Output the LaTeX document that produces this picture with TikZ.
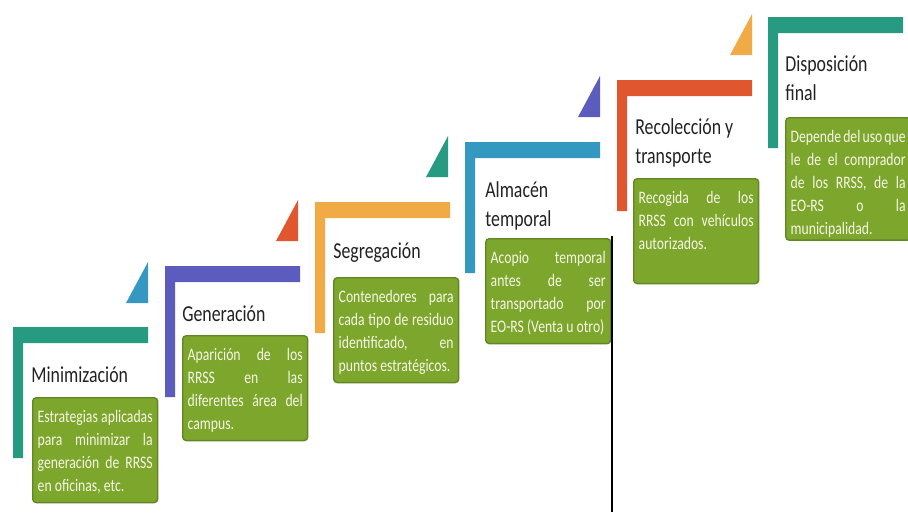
\documentclass[tikz,border=0pt]{standalone}
\usepackage{fontspec}
\setmainfont[FakeStretch=0.78]{Carlito}
\usetikzlibrary{positioning}
\definecolor{stepteal}{RGB}{38,155,130}
\definecolor{steppurple}{RGB}{92,92,190}
\definecolor{steporange}{RGB}{240,170,70}
\definecolor{stepblue}{RGB}{52,152,192}
\definecolor{stepred}{RGB}{224,86,46}
\definecolor{boxgreen}{RGB}{125,166,45}
\definecolor{boxedge}{RGB}{98,134,36}
\definecolor{boxtext}{RGB}{246,246,230}
\definecolor{titlegray}{RGB}{34,34,34}

\begin{document}
\begin{tikzpicture}[x=0.02cm,y=-0.02cm,
    body/.style={rectangle,rounded corners=2pt,fill=boxgreen,draw=boxedge,line width=0.8pt,
      anchor=north west,inner xsep=0.1cm,inner ysep=0.1cm,text width=2.3cm,align=justify,
      text=boxtext,font=\fontsize{10}{13}\selectfont,text height=11.5pt,text depth=42.5pt},
    title/.style={anchor=base west,inner sep=0pt,align=left,text=titlegray,
      font=\fontsize{13}{16}\selectfont}]
    \useasboundingbox (0,0) rectangle (908,512);

    % corners of the steps
    \coordinate (s1) at (13,327);
    \coordinate (s2) at (165,266);
    \coordinate (s3) at (315,202);
    \coordinate (s4) at (465,142);
    \coordinate (s5) at (617,80);
    \coordinate (s6) at (768,17);

    % steps
    \fill[stepteal] (s1) -- ++(135,0) -- ++(0,16) -- ++(-125,0) -- ++(0,115) -- ++(-10,0) -- cycle;
    \fill[steppurple] (s2) -- ++(135,0) -- ++(0,16) -- ++(-125,0) -- ++(0,115) -- ++(-10,0) -- cycle;
    \fill[steporange] (s3) -- ++(135,0) -- ++(0,16) -- ++(-125,0) -- ++(0,115) -- ++(-10,0) -- cycle;
    \fill[stepblue] (s4) -- ++(135,0) -- ++(0,16) -- ++(-125,0) -- ++(0,115) -- ++(-10,0) -- cycle;
    \fill[stepred] (s5) -- ++(135,0) -- ++(0,16) -- ++(-125,0) -- ++(0,115) -- ++(-10,0) -- cycle;
    \fill[stepteal] (s6) -- ++(135,0) -- ++(0,16) -- ++(-125,0) -- ++(0,115) -- ++(-10,0) -- cycle;

    % small triangles
    \fill[stepblue] (s1) ++(135,-24) -- ++(0,-41) -- ++(-22,41) -- cycle;
    \fill[stepred] (s2) ++(133,-25) -- ++(0,-41) -- ++(-22,41) -- cycle;
    \fill[stepteal] (s3) ++(133,-25) -- ++(0,-41) -- ++(-22,41) -- cycle;
    \fill[steppurple] (s4) ++(135,-25) -- ++(0,-41) -- ++(-22,41) -- cycle;
    \fill[steporange] (s5) ++(135,-25) -- ++(0,-41) -- ++(-22,41) -- cycle;

    % titles
    \node[title] (t1) at (31,382) {Minimización};
    \node[title] (t2) at (182,321) {Generación};
    \node[title] (t3) at (333,258) {Segregación};
    \node[title] (t4) at (485,226) {Almacén\\temporal};
    \node[title] (t5) at (635,163) {Recolección y\\transporte};
    \node[title] (t6) at (785,100) {Disposición\\final};

    % green boxes
    \node[body] (b1) at (32,397) {Estrategias aplicadas\linebreak para minimizar la\linebreak generación de RRSS\linebreak en oficinas, etc.};
    \node[body] (b2) at (182,335) {Aparición de los\linebreak RRSS en las\linebreak diferentes área del\linebreak campus.};
    \node[body] (b3) at (333,277) {Contenedores para\linebreak cada tipo de residuo\linebreak identificado, en\linebreak puntos estratégicos.};
    \node[body] (b4) at (485,238) {Acopio temporal\linebreak antes de ser\linebreak transportado por\linebreak EO-RS (Venta u otro)};
    \node[body] (b5) at (633,178) {Recogida de los\linebreak RRSS con vehículos\linebreak autorizados.};
    \node[body,text depth=52.5pt] (b6) at (785,117) {Depende del uso que\linebreak le de el comprador\linebreak de los RRSS, de la\linebreak EO-RS o la\linebreak municipalidad.};

    % black rule
    \coordinate (cut) at (612,236);
    \coordinate (cutend) at (612,512);
    \draw[line width=1.6pt] (cut) -- (cutend);
\end{tikzpicture}
\end{document}
